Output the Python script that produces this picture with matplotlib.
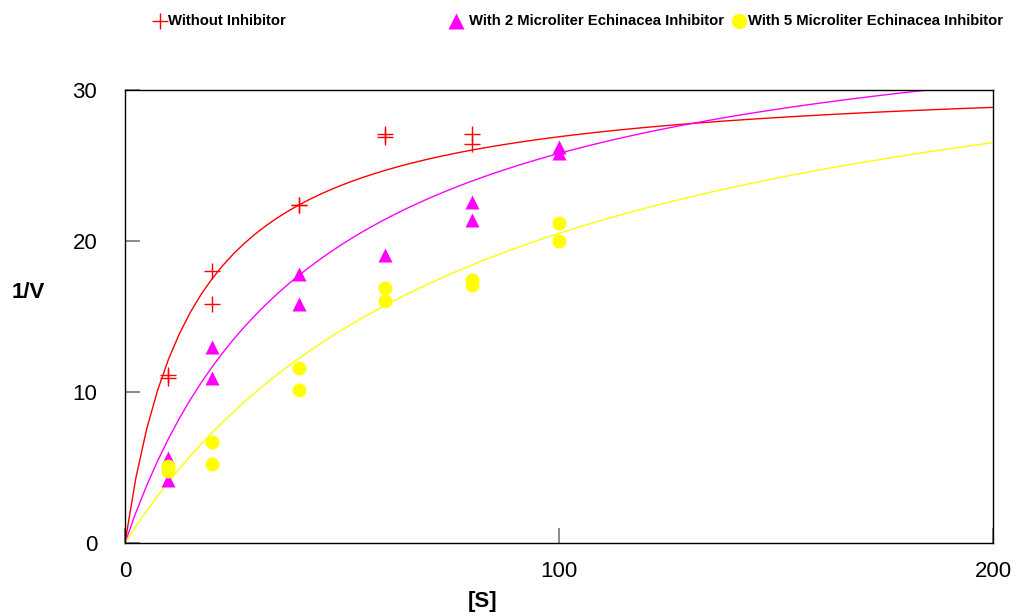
import matplotlib

matplotlib.use("Agg")

import matplotlib.pyplot as plt
import numpy as np

plt.rcParams["font.family"] = ["Liberation Sans", "DejaVu Sans"]

# substrate concentrations and replicate readings
s_none = [10, 10, 20, 20, 40, 40, 60, 60, 80, 80]
v_none = [11.1, 10.9, 18.0, 15.8, 22.4, 22.4, 27.1, 26.9, 27.1, 26.4]

s_2ul = [10, 10, 20, 20, 40, 40, 60, 80, 80, 100, 100]
v_2ul = [5.6, 4.2, 13.0, 10.9, 17.8, 15.8, 19.1, 22.6, 21.4, 26.2, 25.8]

s_5ul = [10, 10, 20, 20, 40, 40, 60, 60, 80, 80, 100, 100]
v_5ul = [5.1, 4.8, 6.7, 5.2, 11.6, 10.1, 16.9, 16.0, 17.4, 17.1, 21.2, 20.0]

# fitted Michaelis-Menten parameters (Vmax, Km)
fit_none = (31.1, 15.6)
fit_2ul = (37.1, 43.8)
fit_5ul = (37.5, 82.9)

labels = ["Without Inhibitor", "With 2 Microliter Echinacea Inhibitor",
          "With 5 Microliter Echinacea Inhibitor"]
colors = ["#ff0000", "#ff00ff", "#ffff00"]


def main() -> None:
    fig = plt.figure(figsize=(10.26, 6.16), dpi=100)
    ax = fig.add_axes([0.1218, 0.1185, 0.8460, 0.7354])

    s_curve = np.linspace(0, 200, 81)
    for (vmax, km), color in zip([fit_none, fit_2ul, fit_5ul], colors):
        ax.plot(s_curve, vmax * s_curve / (km + s_curve), color=color, lw=1.0, zorder=2)

    ax.plot(s_none, v_none, "+", color=colors[0], ms=11, mew=1.0, zorder=3)
    ax.plot(s_2ul, v_2ul, "^", color=colors[1], ms=10, mec="none", zorder=3)
    ax.plot(s_5ul, v_5ul, "o", color=colors[2], ms=10, mec="none", zorder=3)

    ax.set_xlim(0, 200)
    ax.set_ylim(0, 30)
    ax.set_xticks([0, 100, 200])
    ax.set_yticks([0, 10, 20, 30])
    ax.tick_params(direction="in", length=11, width=1.2, color="#777777", labelsize=16)
    ax.tick_params(axis="y", pad=20)
    ax.tick_params(axis="x", pad=13)
    for sp in ax.spines.values():
        sp.set_color("black")
        sp.set_linewidth(1.0)

    ax.set_xlabel("[S]", fontsize=16, fontweight="bold", va="center")
    ax.xaxis.set_label_coords(0.412, -0.13)
    ax.set_ylabel("1/V", fontsize=16, fontweight="bold", rotation=0, va="center", ha="center")
    ax.yaxis.set_label_coords(-0.111, 0.552)

    # legend row along the top
    y_leg = 0.966
    fig.lines.append(plt.Line2D([0.156], [y_leg], marker="+", color=colors[0], ms=11,
                                mew=1.0, transform=fig.transFigure))
    fig.text(0.164, y_leg, labels[0], fontsize=10.7, fontweight="bold", va="center")
    fig.lines.append(plt.Line2D([0.4445], [y_leg], marker="^", color=colors[1], ms=11,
                                mec="none", transform=fig.transFigure))
    fig.text(0.4575, y_leg, labels[1], fontsize=10.7, fontweight="bold", va="center")
    fig.lines.append(plt.Line2D([0.7205], [y_leg], marker="o", color=colors[2], ms=11,
                                mec="none", transform=fig.transFigure))
    fig.text(0.729, y_leg, labels[2], fontsize=10.7, fontweight="bold", va="center")

    fig.savefig("out.png", dpi=100)
    plt.close(fig)


if __name__ == "__main__":
    main()
